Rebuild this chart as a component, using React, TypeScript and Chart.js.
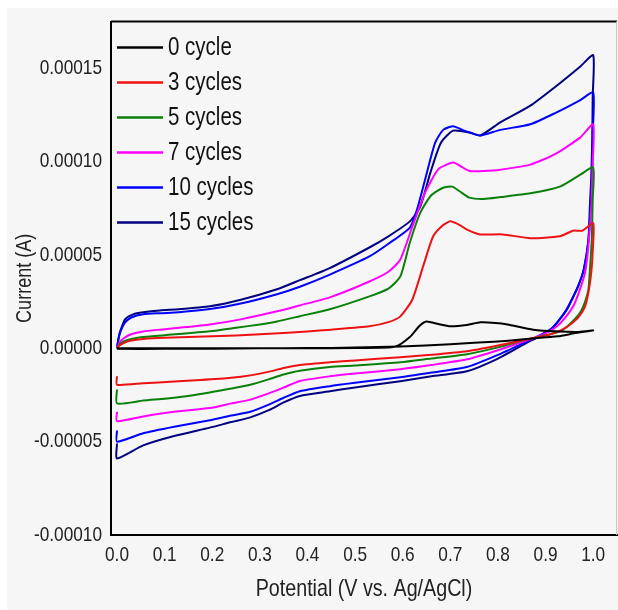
import { useEffect, useRef } from 'react';
import { Chart, registerables } from 'chart.js';

Chart.register(...registerables);

const SERIES_LABELS = ['0 cycle', '3 cycles', '5 cycles', '7 cycles', '10 cycles', '15 cycles'];
const X_TICKS = [0, 0.1, 0.2, 0.3, 0.4, 0.5, 0.6, 0.7, 0.8, 0.9, 1.0];
const Y_TICKS = [-0.0001, -0.00005, 0, 0.00005, 0.0001, 0.00015];
const CURRENT_UNIT = 1e-5; // currents below are in units of 1e-5 A

// 0 cycle
const CYCLE0_V = [0, 0.1, 0.2, 0.3, 0.4, 0.5, 0.584, 0.615, 0.635, 0.65, 0.675, 0.7, 0.735, 0.763, 0.795, 0.82, 0.874, 0.93, 0.97, 1.0,
  0.96, 0.926, 0.86, 0.8, 0.7, 0.595, 0.5, 0.4, 0.3, 0.2, 0.1, 0.0];
const CYCLE0_I = [0, 0, 0, 0, 0, 0.02, 0.08, 0.6, 1.2, 1.44, 1.3, 1.18, 1.25, 1.39, 1.36, 1.28, 1.0, 0.9, 0.88, 0.96,
  0.8, 0.64, 0.5, 0.37, 0.22, 0.1, 0.04, 0.01, 0, -0.02, -0.03, -0.03];

// 3 cycles
const CYCLE3_V = [0, 0.005, 0.015, 0.03, 0.055, 0.1, 0.2, 0.3, 0.4, 0.45, 0.53, 0.57, 0.595, 0.62, 0.643, 0.664, 0.685, 0.7, 0.72, 0.735, 0.763, 0.81, 0.868, 0.93, 0.958, 0.977, 1.0,
  0.999, 0.996, 0.99, 0.983, 0.97, 0.952, 0.935, 0.916, 0.89, 0.861, 0.8, 0.735, 0.66, 0.595, 0.5, 0.447, 0.384, 0.35, 0.32, 0.28, 0.24, 0.175, 0.12, 0.055, 0.0, 0.0];
const CYCLE3_I = [0, 0.15, 0.3, 0.42, 0.5, 0.56, 0.64, 0.75, 0.9, 1.0, 1.18, 1.4, 1.71, 2.6, 4.4, 6.0, 6.6, 6.8, 6.6, 6.36, 6.1, 6.1, 5.9, 6.0, 6.3, 6.3, 6.7,
  5.2, 4.06, 3.0, 2.25, 1.7, 1.28, 1.0, 0.8, 0.62, 0.48, 0.15, -0.16, -0.35, -0.48, -0.65, -0.75, -0.9, -1.05, -1.25, -1.45, -1.58, -1.7, -1.78, -1.87, -1.95, -1.5];

// 5 cycles
const CYCLE5_V = [0, 0.005, 0.015, 0.03, 0.05, 0.1, 0.195, 0.25, 0.3, 0.336, 0.384, 0.447, 0.53, 0.57, 0.595, 0.615, 0.637, 0.66, 0.685, 0.704, 0.72, 0.74, 0.77, 0.805, 0.868, 0.93, 0.973, 1.0,
  0.999, 0.997, 0.993, 0.99, 0.983, 0.973, 0.955, 0.937, 0.91, 0.861, 0.8, 0.735, 0.66, 0.595, 0.5, 0.447, 0.384, 0.35, 0.32, 0.28, 0.24, 0.175, 0.12, 0.055, 0.0, 0.0];
const CYCLE5_I = [0, 0.2, 0.38, 0.5, 0.59, 0.7, 0.91, 1.1, 1.28, 1.44, 1.72, 2.09, 2.78, 3.2, 3.85, 5.67, 7.27, 8.2, 8.6, 8.66, 8.4, 8.07, 8.0, 8.1, 8.3, 8.66, 9.3, 9.68,
  8.0, 5.8, 4.2, 3.15, 2.5, 1.93, 1.4, 1.0, 0.75, 0.48, 0.05, -0.32, -0.55, -0.75, -0.92, -1.0, -1.2, -1.4, -1.65, -1.95, -2.15, -2.45, -2.65, -2.8, -2.95, -2.2];

// 7 cycles
const CYCLE7_V = [0, 0.005, 0.015, 0.03, 0.055, 0.09, 0.13, 0.195, 0.26, 0.336, 0.384, 0.447, 0.53, 0.57, 0.595, 0.62, 0.647, 0.675, 0.706, 0.725, 0.74, 0.77, 0.805, 0.868, 0.92, 0.973, 1.0,
  0.999, 0.996, 0.99, 0.983, 0.97, 0.958, 0.94, 0.924, 0.9, 0.861, 0.8, 0.735, 0.66, 0.595, 0.5, 0.447, 0.384, 0.35, 0.32, 0.28, 0.24, 0.195, 0.12, 0.055, 0.0, 0.0];
const CYCLE7_I = [0, 0.3, 0.55, 0.75, 0.9, 1.0, 1.1, 1.28, 1.55, 1.98, 2.3, 2.73, 3.58, 4.1, 4.76, 6.5, 8.34, 9.6, 9.95, 9.7, 9.5, 9.5, 9.57, 9.84, 10.4, 11.3, 12.0,
  10.0, 7.6, 5.5, 4.06, 3.0, 2.25, 1.6, 1.18, 0.8, 0.43, -0.1, -0.59, -0.9, -1.12, -1.35, -1.5, -1.75, -2.1, -2.4, -2.75, -2.95, -3.2, -3.4, -3.65, -3.9, -3.4];

// 10 cycles
const CYCLE10_V = [0, 0.003, 0.008, 0.017, 0.03, 0.055, 0.09, 0.13, 0.195, 0.26, 0.336, 0.384, 0.447, 0.53, 0.57, 0.615, 0.63, 0.647, 0.668, 0.685, 0.706, 0.725, 0.742, 0.763, 0.805, 0.868, 0.92, 0.973, 1.0,
  0.999, 0.998, 0.994, 0.99, 0.98, 0.968, 0.955, 0.945, 0.928, 0.91, 0.88, 0.861, 0.8, 0.735, 0.66, 0.595, 0.5, 0.447, 0.384, 0.35, 0.32, 0.28, 0.24, 0.195, 0.12, 0.055, 0.0, 0.0];
const CYCLE10_I = [0, 0.5, 0.95, 1.39, 1.65, 1.82, 1.88, 1.93, 2.1, 2.4, 2.9, 3.3, 3.95, 4.92, 5.6, 6.47, 7.43, 9.04, 11.0, 11.7, 11.9, 11.7, 11.55, 11.4, 11.7, 12.0, 12.6, 13.3, 13.7,
  11.5, 9.4, 7.5, 5.8, 4.2, 3.3, 2.6, 2.1, 1.5, 1.0, 0.6, 0.37, -0.35, -1.0, -1.3, -1.55, -1.85, -2.03, -2.3, -2.65, -3.0, -3.4, -3.6, -3.85, -4.2, -4.55, -5.0, -4.4];

// 15 cycles
const CYCLE15_V = [0, 0.003, 0.006, 0.017, 0.034, 0.055, 0.09, 0.13, 0.195, 0.26, 0.336, 0.384, 0.447, 0.53, 0.57, 0.615, 0.637, 0.658, 0.68, 0.706, 0.742, 0.763, 0.805, 0.868, 0.92, 0.973, 1.0,
  0.999, 0.998, 0.996, 0.993, 0.99, 0.98, 0.968, 0.955, 0.945, 0.928, 0.91, 0.88, 0.861, 0.8, 0.735, 0.66, 0.595, 0.5, 0.447, 0.384, 0.35, 0.32, 0.28, 0.24, 0.195, 0.12, 0.055, 0.0, 0.0];
const CYCLE15_I = [0, 0.5, 0.85, 1.55, 1.82, 1.93, 2.03, 2.09, 2.25, 2.6, 3.16, 3.65, 4.3, 5.4, 6.0, 6.8, 7.6, 9.4, 11.0, 11.66, 11.55, 11.4, 12.1, 13.0, 14.0, 15.1, 15.7,
  13.5, 11.2, 9.2, 7.6, 5.8, 4.2, 3.3, 2.6, 2.1, 1.5, 1.0, 0.55, 0.3, -0.55, -1.23, -1.5, -1.76, -2.1, -2.3, -2.55, -2.9, -3.3, -3.7, -3.95, -4.25, -4.7, -5.2, -5.9, -5.1];

const SERIES_V = [CYCLE0_V, CYCLE3_V, CYCLE5_V, CYCLE7_V, CYCLE10_V, CYCLE15_V];
const SERIES_I = [CYCLE0_I, CYCLE3_I, CYCLE5_I, CYCLE7_I, CYCLE10_I, CYCLE15_I];

const COLORS = ['#000000', '#ee1111', '#0a800a', '#ff00ff', '#0000ff', '#000080'];
const FONT = '"Liberation Sans", Arial, sans-serif';
const CONDENSE = 0.82; // horizontal squeeze to imitate a narrow face

export default function App() {
  const ref = useRef<HTMLCanvasElement>(null);

  useEffect(() => {
    const canvas = ref.current;
    if (!canvas) return;
    const ctx2d = canvas.getContext('2d') as any;
    const origFill = ctx2d.fillText.bind(ctx2d);
    ctx2d.fillText = (text: string, x: number, y: number) => {
      ctx2d.save();
      ctx2d.translate(x, y);
      ctx2d.scale(CONDENSE, 1);
      origFill(text, 0, 0);
      ctx2d.restore();
    };

    const datasets = SERIES_LABELS.map((label, i) => ({
      label,
      data: SERIES_V[i].map((v, k) => ({ x: v, y: SERIES_I[i][k] * CURRENT_UNIT })),
      showLine: true,
      borderColor: COLORS[i],
      backgroundColor: COLORS[i],
      borderWidth: 2,
      pointRadius: 0,
      pointHoverRadius: 0,
      tension: 0.2,
      fill: false,
    }));

    const framePlugin = {
      id: 'frame',
      beforeDraw(chart: any) {
        const ctx = chart.ctx;
        ctx.save();
        ctx.fillStyle = '#ffffff';
        ctx.fillRect(0, 0, chart.width, chart.height);
        ctx.fillStyle = '#f6f6f6';
        ctx.fillRect(7, 8, chart.width - 7, chart.height - 8);
        ctx.restore();
      },
      afterDraw(chart: any) {
        const ctx = chart.ctx;
        const { left, top, right, bottom } = chart.chartArea;
        ctx.save();
        ctx.strokeStyle = '#000';
        ctx.lineWidth = 2;
        ctx.beginPath();
        ctx.moveTo(left, top);
        ctx.lineTo(right, top);
        ctx.stroke();
        ctx.strokeStyle = '#c8c8c8';
        ctx.lineWidth = 1;
        ctx.beginPath();
        ctx.moveTo(right - 0.5, top);
        ctx.lineTo(right - 0.5, bottom);
        ctx.stroke();
        // legend
        ctx.font = '25px ' + FONT;
        ctx.textBaseline = 'middle';
        ctx.textAlign = 'left';
        SERIES_LABELS.forEach((label, i) => {
          const y = top + 26 + i * 35;
          ctx.strokeStyle = COLORS[i];
          ctx.lineWidth = 2.5;
          ctx.beginPath();
          ctx.moveTo(left + 6, y);
          ctx.lineTo(left + 52, y);
          ctx.stroke();
          ctx.fillStyle = '#111';
          ctx.fillText(label, left + 57, y + 1);
        });
        ctx.restore();
      },
    };

    const chart = new Chart(canvas, {
      type: 'scatter',
      data: { datasets },
      options: {
        responsive: false,
        animation: false,
        events: [],
        layout: { padding: { top: 21, right: 1, left: 0, bottom: 0 } },
        plugins: {
          legend: { display: false },
          tooltip: { enabled: false },
        },
        scales: {
          x: {
            type: 'linear',
            min: -0.0126,
            max: 1.05,
            afterBuildTicks: (scale: any) => {
              scale.ticks = X_TICKS.map((v) => ({ value: v }));
            },
            afterFit: (scale: any) => {
              scale.height = 75;
            },
            grid: { display: false, drawTicks: false },
            border: { display: true, color: '#000', width: 2 },
            ticks: {
              color: '#222',
              padding: 8,
              maxRotation: 0,
              autoSkip: false,
              font: { family: FONT, size: 21 },
              callback: (v: any) => Number(v).toFixed(1),
            },
            title: {
              display: true,
              text: 'Potential (V vs. Ag/AgCl)',
              color: '#222',
              font: { family: FONT, size: 24 },
              padding: { top: 0, bottom: 6 },
            },
          },
          y: {
            type: 'linear',
            min: -0.0001,
            max: 0.000175,
            afterBuildTicks: (scale: any) => {
              scale.ticks = Y_TICKS.map((v) => ({ value: v }));
            },
            afterFit: (scale: any) => {
              scale.width = 111;
            },
            grid: { display: false, drawTicks: false },
            border: { display: true, color: '#000', width: 2 },
            ticks: {
              color: '#222',
              padding: 9,
              autoSkip: false,
              font: { family: FONT, size: 21 },
              callback: (v: any) => Number(v).toFixed(5),
            },
            title: {
              display: true,
              text: 'Current (A)',
              color: '#222',
              font: { family: FONT, size: 22 },
              padding: { top: 12, bottom: 0 },
            },
          },
        },
      },
      plugins: [framePlugin],
    });

    return () => {
      chart.destroy();
      ctx2d.fillText = origFill;
    };
  }, []);

  return (
    <div style={{ position: 'absolute', left: 0, top: 0, width: 618, height: 610 }}>
      <canvas ref={ref} width={618} height={610} style={{ display: 'block' }} />
    </div>
  );
}
